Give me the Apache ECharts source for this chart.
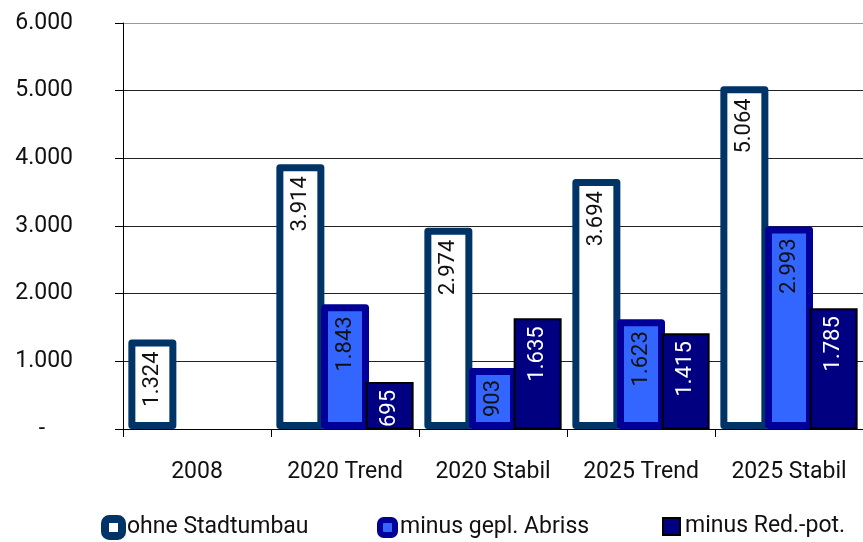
<!DOCTYPE html>
<html>
<head>
<meta charset="utf-8">
<script src="https://cdn.jsdelivr.net/npm/echarts@6/dist/echarts.min.js"></script>
<style>
html,body{margin:0;padding:0;background:#fff;}
#chart{width:863px;height:542px;}
</style>
</head>
<body>
<div id="chart"></div>
<script>
var categories = ['2008', '2020 Trend', '2020 Stabil', '2025 Trend', '2025 Stabil'];
var seriesNames = ['ohne Stadtumbau', 'minus gepl. Abriss', 'minus Red.-pot.'];
var ohneStadtumbau = [1324, 3914, 2974, 3694, 5064];
var geplAbriss = [null, 1843, 903, 1623, 2993];
var redPot = [null, 695, 1635, 1415, 1785];
var yTicks = [0, 1000, 2000, 3000, 4000, 5000, 6000];

var FONT = "Roboto, 'Liberation Sans', sans-serif";

function fmt(v) {
  var s = String(Math.round(v));
  return s.replace(/\B(?=(\d{3})+(?!\d))/g, '.');
}

var labelBase = {
  show: true,
  position: 'insideTop',
  rotate: 90,
  align: 'right',
  verticalAlign: 'middle',
  distance: 12,
  fontFamily: FONT,
  fontSize: 22,
  formatter: function (p) { return fmt(p.value); }
};

var chart = echarts.init(document.getElementById('chart'), null, {renderer: 'canvas'});
chart.setOption({
  animation: false,
  backgroundColor: '#ffffff',
  textStyle: {fontFamily: FONT},
  grid: {left: 123, right: -5, top: 23, bottom: 113, containLabel: false},
  legend: [
    {
      left: 101, top: 515, padding: 0, itemWidth: 17, itemHeight: 17, itemGap: 0, itemTextGap: 9,
      textStyle: {fontFamily: FONT, fontSize: 23, color: '#111'},
      data: [{name: seriesNames[0], icon: 'roundRect', itemStyle: {color: '#ffffff', borderColor: '#003366', borderWidth: 8}}]
    },
    {
      left: 377, top: 516, padding: 0, itemWidth: 15, itemHeight: 15, itemGap: 0, itemTextGap: 14,
      textStyle: {fontFamily: FONT, fontSize: 23, color: '#111'},
      data: [{name: seriesNames[1], icon: 'roundRect', itemStyle: {color: '#3366ff', borderColor: '#000099', borderWidth: 6}}]
    },
    {
      left: 662, top: 515, padding: 0, itemWidth: 17, itemHeight: 17, itemGap: 0, itemTextGap: 6,
      textStyle: {fontFamily: FONT, fontSize: 23, color: '#111'},
      data: [{name: seriesNames[2], icon: 'rect', itemStyle: {color: '#000080', borderColor: '#000000', borderWidth: 2}}]
    }
  ],
  xAxis: {
    type: 'category',
    data: categories,
    boundaryGap: true,
    axisLine: {lineStyle: {color: '#000', width: 1}},
    axisTick: {show: true, length: 8, lineStyle: {color: '#000'}},
    axisLabel: {interval: 0, fontFamily: FONT, fontSize: 23, color: '#111', margin: 32},
    splitLine: {show: false}
  },
  yAxis: {
    type: 'value',
    min: yTicks[0],
    max: yTicks[yTicks.length - 1],
    interval: 1000,
    axisLine: {show: true, lineStyle: {color: '#000', width: 1}},
    axisTick: {show: true, length: 8, lineStyle: {color: '#000'}},
    axisLabel: {
      fontFamily: FONT, fontSize: 23, color: '#111', margin: 50,
      formatter: function (v) { return v === 0 ? '{d|-}' : fmt(v); },
      rich: {d: {fontFamily: FONT, fontSize: 23, color: '#111', padding: [0, 28, 0, 0]}}
    },
    splitLine: {show: true, lineStyle: {color: ['#222', '#222', '#222', '#222', '#222', '#222', '#999'], width: 1}}
  },
  series: [
    {
      name: seriesNames[0], type: 'bar', data: ohneStadtumbau,
      barWidth: 48, barGap: '-7%', barCategoryGap: '5%',
      itemStyle: {color: '#ffffff', borderColor: '#003366', borderWidth: 7, borderJoin: 'round'},
      label: Object.assign({}, labelBase, {color: '#111'})
    },
    {
      name: seriesNames[1], type: 'bar', data: geplAbriss,
      barWidth: 48, barGap: '-7%',
      itemStyle: {color: '#3366ff', borderColor: '#000099', borderWidth: 7, borderJoin: 'round'},
      label: Object.assign({}, labelBase, {color: '#111'})
    },
    {
      name: seriesNames[2], type: 'bar', data: redPot,
      barWidth: 48, barGap: '-7%',
      itemStyle: {color: '#000080', borderColor: '#000000', borderWidth: 2},
      label: Object.assign({}, labelBase, {color: '#ffffff', distance: 8})
    }
  ]
});
</script>
</body>
</html>
